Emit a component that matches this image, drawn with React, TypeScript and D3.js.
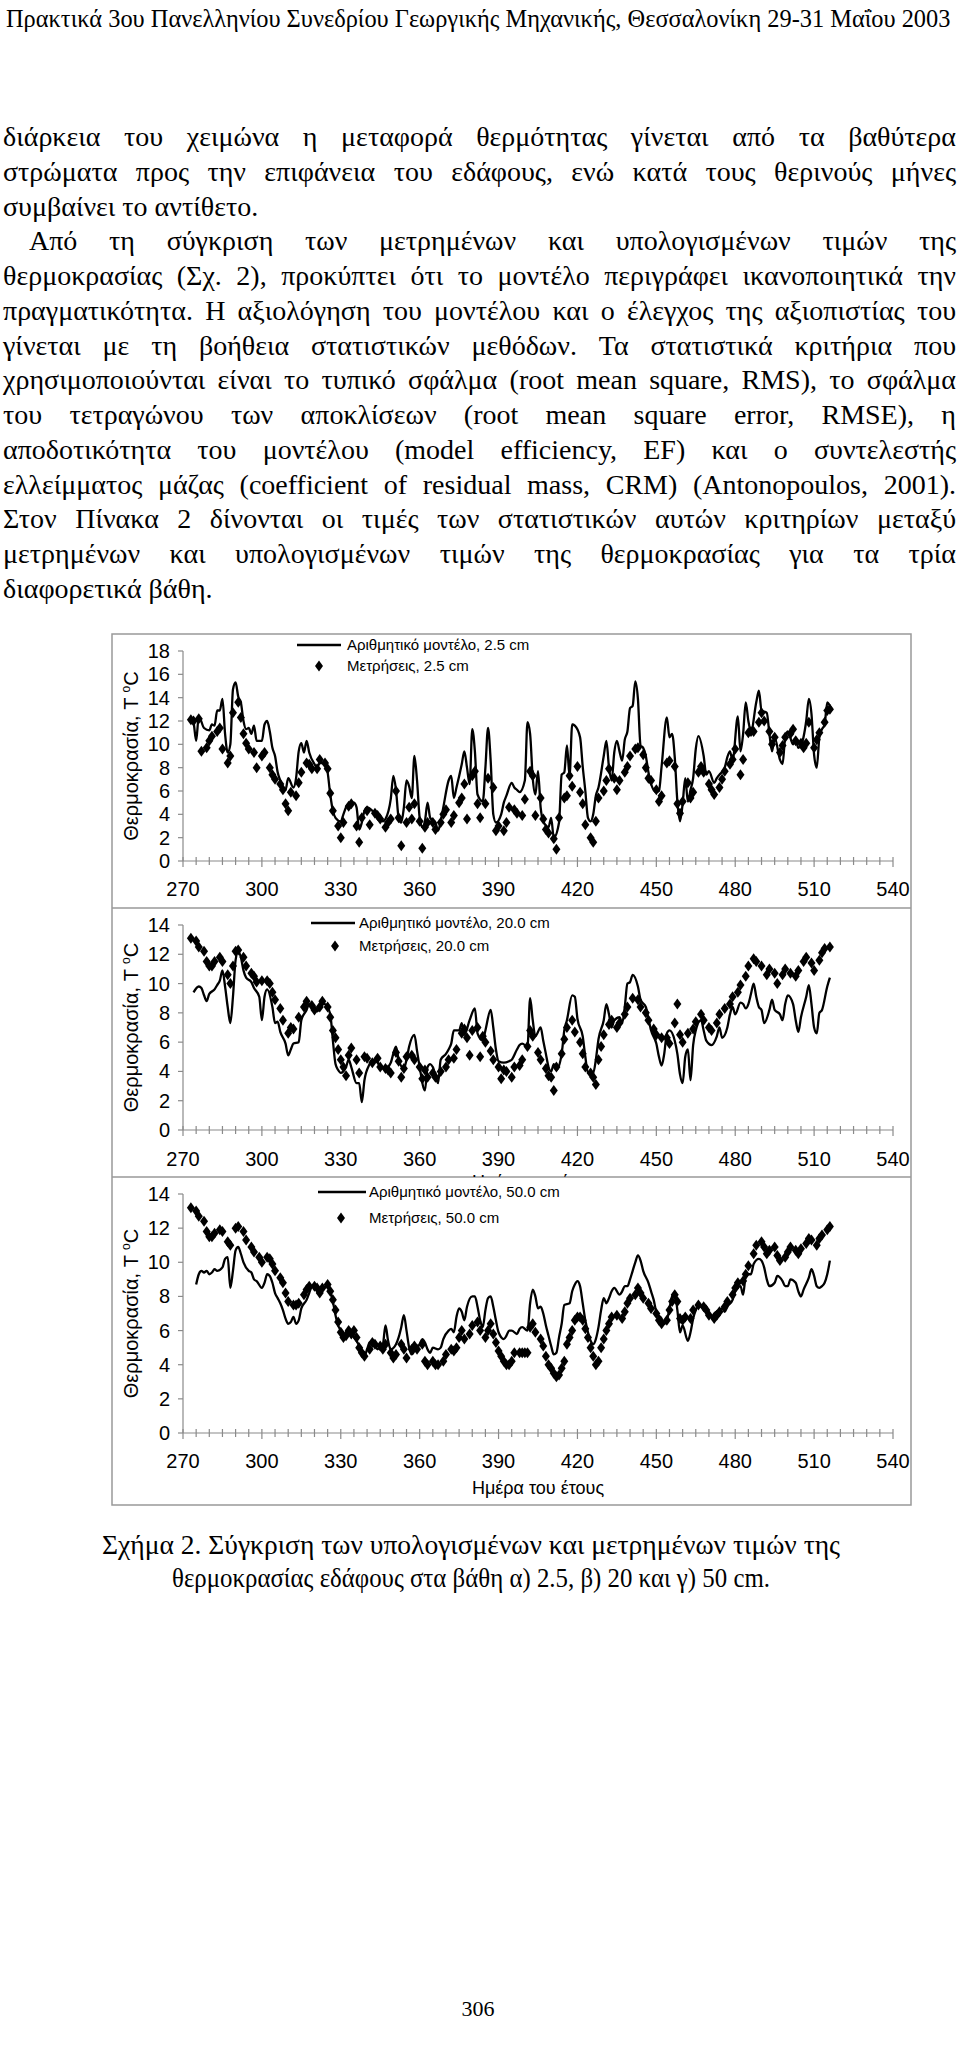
import React, { useRef, useEffect } from 'react';
import * as d3 from 'd3';

type Pt = [number, number];

const header = 'Πρακτικά 3ου Πανελληνίου Συνεδρίου Γεωργικής Μηχανικής, Θεσσαλονίκη 29-31 Μαΐου 2003';

// text of the page, one entry per printed line
const bodyLines = [
  { t: 'διάρκεια του χειμώνα η μεταφορά θερμότητας γίνεται από τα βαθύτερα', j: true, ind: 0 },
  { t: 'στρώματα προς την επιφάνεια του εδάφους, ενώ κατά τους θερινούς μήνες', j: true, ind: 0 },
  { t: 'συμβαίνει το αντίθετο.', j: false, ind: 0 },
  { t: 'Από τη σύγκριση των μετρημένων και υπολογισμένων τιμών της', j: true, ind: 26 },
  { t: 'θερμοκρασίας (Σχ. 2), προκύπτει ότι το μοντέλο περιγράφει ικανοποιητικά την', j: true, ind: 0 },
  { t: 'πραγματικότητα. Η αξιολόγηση του μοντέλου και ο έλεγχος της αξιοπιστίας του', j: true, ind: 0 },
  { t: 'γίνεται με τη βοήθεια στατιστικών μεθόδων. Τα στατιστικά κριτήρια που', j: true, ind: 0 },
  { t: 'χρησιμοποιούνται είναι το τυπικό σφάλμα (root mean square, RMS), το σφάλμα', j: true, ind: 0 },
  { t: 'του τετραγώνου των αποκλίσεων (root mean square error, RMSE), η', j: true, ind: 0 },
  { t: 'αποδοτικότητα του μοντέλου (model efficiency, EF) και ο συντελεστής', j: true, ind: 0 },
  { t: 'ελλείμματος μάζας (coefficient of residual mass, CRM) (Antonopoulos, 2001).', j: true, ind: 0 },
  { t: 'Στον Πίνακα 2 δίνονται οι τιμές των στατιστικών αυτών κριτηρίων μεταξύ', j: true, ind: 0 },
  { t: 'μετρημένων και υπολογισμένων τιμών της θερμοκρασίας για τα τρία', j: true, ind: 0 },
  { t: 'διαφορετικά βάθη.', j: false, ind: 0 },
];

const captionLines = [
  'Σχήμα 2. Σύγκριση των υπολογισμένων και μετρημένων τιμών της',
  'θερμοκρασίας εδάφους στα βάθη α) 2.5, β) 20 και γ) 50 cm.',
];

const xTickLabels = [270, 300, 330, 360, 390, 420, 450, 480, 510, 540];
const yTicks18 = [0, 2, 4, 6, 8, 10, 12, 14, 16, 18];
const yTicks14 = [0, 2, 4, 6, 8, 10, 12, 14];
const depths = ['2.5', '20.0', '50.0'];

// 2.5 cm
const model25: Pt[] = [[273,12.3],[274,11.9],[275,10.3],[276,12.4],[278,11.4],[280,11.2],[281,11.7],[282,11.6],[283,12.9],[284,12.9],[285,13.9],[286,10.9],[287,9.3],[288,10.0],[289,14.7],[290,15.3],[291,14.1],[292,13.6],[293,12.0],[294,11.3],[295,11.4],[296,10.9],[297,11.6],[298,10.3],[300,10.3],[301,11.7],[302,12.0],[303,11.1],[304,9.7],[305,9.0],[306,7.6],[307,6.9],[309,6.1],[310,7.1],[312,6.3],[313,7.1],[314,9.4],[315,10.1],[316,9.3],[317,10.3],[318,9.3],[320,8.3],[321,8.0],[322,8.4],[324,8.4],[325,7.6],[326,5.7],[327,4.3],[328,3.7],[330,3.4],[331,4.0],[332,4.6],[333,4.9],[335,5.0],[336,4.6],[337,2.7],[338,3.3],[339,4.3],[340,4.6],[342,4.3],[343,4.0],[345,3.7],[346,3.4],[347,3.6],[349,5.3],[350,7.3],[351,6.1],[352,3.7],[353,3.3],[354,4.6],[355,6.9],[356,6.4],[357,5.4],[358,9.0],[359,6.9],[360,3.7],[361,2.9],[362,3.4],[363,5.0],[364,3.7],[366,3.3],[367,2.6],[368,3.4],[369,4.6],[371,6.9],[372,7.3],[373,5.4],[374,6.3],[376,8.3],[377,9.4],[378,8.0],[379,6.6],[380,11.3],[381,9.4],[382,5.7],[384,5.1],[385,8.0],[386,11.4],[387,8.6],[388,4.0],[389,3.3],[391,4.0],[392,5.0],[393,5.6],[395,6.7],[396,6.3],[397,6.1],[398,5.9],[400,6.9],[401,11.9],[402,10.9],[403,7.1],[404,5.7],[405,7.7],[406,4.6],[407,3.4],[409,2.9],[410,3.7],[411,2.0],[413,3.3],[414,7.4],[415,7.6],[416,9.9],[417,7.3],[418,11.7],[419,11.6],[421,10.6],[422,8.1],[423,6.0],[424,3.7],[425,3.4],[426,4.0],[427,5.6],[428,6.3],[430,9.0],[431,10.3],[432,8.0],[433,6.9],[434,9.3],[435,10.3],[436,9.4],[437,8.6],[438,10.4],[439,11.1],[440,13.1],[441,13.3],[442,15.4],[443,13.9],[444,9.9],[445,9.7],[446,9.0],[447,7.6],[448,6.6],[450,5.9],[451,6.0],[452,8.1],[454,12.3],[455,10.6],[456,10.9],[457,8.9],[458,5.1],[459,3.4],[460,4.9],[461,7.1],[462,5.1],[463,6.1],[464,7.1],[465,9.6],[466,10.7],[468,9.0],[469,7.4],[470,7.7],[472,6.7],[473,7.1],[474,7.4],[476,8.0],[477,8.9],[478,9.4],[479,8.6],[481,12.4],[482,9.4],[483,10.9],[484,13.6],[485,12.0],[486,11.1],[488,13.6],[489,14.6],[490,12.9],[492,12.7],[493,10.9],[494,9.4],[495,10.6],[497,8.7],[498,8.3],[499,10.6],[500,11.1],[502,10.0],[503,10.4],[504,9.7],[505,9.9],[507,12.0],[508,13.9],[509,12.6],[510,9.1],[511,8.0],[512,10.6],[513,11.3],[514,11.7],[515,13.6],[516,13.3],[517,12.9]];

const meas25: Pt[] = [[273,12.1],[274,12.0],[276,12.2],[277,9.4],[279,9.7],[280,10.3],[281,10.7],[283,11.1],[284,11.4],[285,9.6],[287,8.4],[288,9.0],[289,12.7],[291,13.6],[292,12.3],[293,10.9],[294,10.1],[295,9.6],[297,9.3],[298,8.0],[300,9.0],[301,9.3],[303,8.0],[304,7.4],[305,7.0],[307,6.6],[308,6.1],[309,4.9],[310,4.3],[311,5.9],[313,5.6],[314,6.7],[315,7.6],[317,8.4],[318,8.3],[319,7.9],[321,7.9],[322,8.7],[324,8.4],[325,7.9],[326,5.8],[327,4.3],[329,3.0],[330,2.0],[331,3.3],[333,4.7],[334,4.9],[336,3.0],[337,1.6],[338,3.7],[340,4.3],[341,3.1],[343,4.1],[344,3.9],[345,3.6],[347,2.9],[348,3.3],[349,3.6],[351,6.0],[352,3.7],[353,1.3],[355,3.3],[356,4.6],[357,3.6],[358,4.9],[360,3.4],[361,1.1],[362,2.9],[363,3.3],[365,3.3],[366,2.7],[368,3.3],[369,4.0],[370,4.4],[372,3.3],[373,3.9],[375,5.0],[376,5.4],[377,6.6],[378,3.6],[380,7.3],[381,7.7],[382,4.9],[383,3.7],[385,4.9],[386,7.1],[388,6.3],[389,2.6],[390,3.0],[392,2.6],[393,3.3],[394,4.6],[396,4.4],[397,4.1],[399,3.9],[400,5.3],[402,7.7],[403,7.3],[404,3.9],[406,5.4],[407,3.6],[408,2.7],[409,2.4],[411,1.9],[412,1.0],[413,3.7],[415,5.4],[416,5.6],[417,7.3],[418,6.4],[420,8.1],[421,5.9],[422,4.9],[423,3.1],[425,2.0],[426,1.6],[427,3.4],[428,5.4],[430,6.0],[431,6.9],[432,7.9],[434,7.1],[435,6.1],[436,6.9],[438,7.6],[439,8.1],[440,9.0],[442,9.6],[443,9.7],[445,9.1],[446,8.0],[447,7.1],[448,6.9],[450,6.1],[451,5.1],[452,5.6],[454,8.4],[455,8.6],[457,8.1],[458,4.9],[459,4.1],[460,5.1],[462,6.7],[463,5.4],[464,5.9],[466,7.6],[467,8.1],[468,7.6],[470,6.6],[471,6.1],[472,5.7],[474,6.3],[475,7.0],[476,7.7],[478,8.3],[479,8.7],[480,9.6],[482,7.4],[483,8.7],[485,11.0],[486,11.1],[487,11.1],[489,11.9],[490,12.7],[491,12.0],[493,11.1],[494,10.0],[495,10.6],[497,9.3],[498,9.9],[499,10.6],[501,10.9],[502,11.3],[503,10.3],[505,10.1],[506,9.7],[507,10.1],[508,11.9],[510,9.7],[511,10.4],[512,11.0],[514,11.9],[515,12.9],[516,13.0]];

// 20 cm
const model20: Pt[] = [[274,9.4],[276,9.8],[277,9.7],[278,9.2],[279,8.8],[280,9.3],[282,9.6],[283,9.9],[284,10.2],[285,10.9],[286,9.8],[287,8.4],[288,7.3],[289,9.1],[290,11.6],[291,12.2],[292,11.8],[293,10.9],[294,10.4],[296,10.1],[297,9.7],[299,9.1],[300,7.5],[301,9.1],[302,9.6],[304,8.4],[305,7.3],[306,7.4],[307,6.7],[309,5.9],[310,5.1],[311,5.5],[312,5.9],[314,6.0],[315,7.5],[317,8.2],[318,8.6],[320,8.3],[321,8.1],[323,8.6],[324,8.6],[326,7.9],[327,6.1],[328,4.5],[329,4.1],[330,3.9],[332,4.3],[333,4.8],[334,4.3],[336,3.2],[337,3.2],[338,1.9],[339,3.4],[341,4.5],[342,4.8],[344,4.6],[345,4.3],[347,4.2],[348,4.3],[349,4.6],[351,5.7],[352,4.8],[354,4.2],[355,4.8],[356,5.7],[358,6.5],[359,5.4],[360,4.3],[362,2.7],[363,4.3],[364,4.5],[365,4.3],[367,3.2],[368,4.8],[370,5.2],[371,5.5],[372,5.9],[373,6.8],[375,6.8],[376,7.3],[377,6.5],[379,7.5],[381,8.3],[382,6.6],[384,6.1],[385,6.8],[387,8.2],[388,7.0],[389,5.5],[390,4.7],[392,4.6],[394,4.7],[395,4.8],[397,5.5],[398,5.8],[399,5.9],[401,5.7],[402,9.0],[403,7.5],[404,6.4],[406,7.0],[407,6.1],[408,5.2],[409,4.3],[410,4.0],[411,4.5],[412,4.1],[414,5.2],[415,6.8],[416,7.5],[418,9.2],[419,9.1],[420,7.6],[422,6.4],[423,5.0],[424,3.9],[426,3.9],[427,4.8],[428,6.2],[430,7.5],[431,8.6],[432,7.9],[433,7.0],[434,7.5],[436,7.7],[437,7.3],[438,8.4],[439,10.0],[440,10.1],[441,10.6],[443,9.8],[444,8.9],[446,8.4],[447,7.6],[448,6.8],[450,5.9],[451,5.0],[452,4.4],[453,5.2],[454,6.6],[455,6.8],[457,6.1],[458,5.2],[459,3.8],[460,3.2],[461,5.0],[462,5.5],[463,3.4],[464,5.8],[465,6.8],[467,7.5],[468,6.8],[469,6.1],[471,5.8],[473,6.4],[474,7.0],[475,6.3],[477,7.0],[478,7.9],[479,8.4],[480,7.9],[482,8.7],[483,8.6],[484,8.3],[485,8.6],[486,9.3],[487,10.0],[488,9.1],[489,8.4],[490,8.2],[491,7.3],[493,8.2],[494,8.9],[495,8.2],[497,7.9],[498,7.5],[499,8.6],[500,9.2],[502,8.6],[503,7.5],[504,6.7],[505,7.7],[507,9.1],[508,9.9],[509,8.6],[510,7.0],[511,6.6],[512,8.0],[513,8.2],[515,9.8],[516,10.4]];

const meas20: Pt[] = [[273,13.1],[275,12.9],[276,12.5],[278,12.2],[279,11.5],[280,11.2],[281,11.2],[282,11.5],[284,11.8],[285,11.5],[287,10.6],[288,10.0],[289,11.2],[290,12.2],[291,12.3],[293,11.8],[294,11.2],[296,10.7],[297,10.5],[298,10.1],[300,10.2],[302,10.2],[303,10.0],[304,9.4],[305,8.9],[307,8.3],[308,7.5],[310,6.6],[311,7.0],[312,6.9],[314,7.7],[316,8.4],[317,8.8],[319,8.5],[320,8.2],[322,8.4],[323,8.8],[325,8.4],[326,7.7],[327,6.8],[328,6.3],[329,5.5],[330,4.8],[331,4.3],[332,3.7],[333,5.1],[334,5.6],[336,4.8],[337,3.9],[339,5.0],[340,4.9],[342,4.6],[344,4.9],[345,4.3],[347,4.2],[348,4.1],[349,3.9],[351,5.3],[352,4.7],[353,3.6],[354,4.2],[355,5.0],[357,5.1],[358,4.8],[360,4.3],[361,3.5],[362,4.1],[363,3.6],[365,3.9],[366,3.6],[368,4.0],[370,4.3],[371,4.8],[373,4.9],[374,5.5],[376,6.6],[377,6.9],[378,6.3],[379,5.1],[380,6.8],[382,7.0],[383,5.0],[384,6.4],[385,6.0],[387,5.4],[388,4.8],[390,4.3],[391,3.5],[392,4.1],[393,4.0],[395,3.6],[396,4.3],[398,4.4],[399,4.8],[401,5.7],[402,6.8],[403,6.4],[405,5.3],[406,4.8],[408,4.2],[409,3.7],[410,3.6],[411,2.7],[412,4.3],[414,5.2],[415,6.2],[416,7.0],[418,7.5],[419,6.7],[421,6.0],[422,5.2],[423,4.3],[425,3.9],[426,3.6],[427,3.1],[428,4.8],[429,5.7],[430,6.5],[432,7.2],[433,7.5],[435,7.0],[436,7.3],[438,7.9],[439,8.4],[441,9.0],[443,8.9],[444,8.4],[446,8.0],[447,7.5],[449,6.9],[450,6.5],[452,6.3],[454,6.3],[455,5.9],[457,7.3],[458,8.6],[459,6.5],[460,6.0],[462,6.6],[464,6.9],[465,7.4],[467,7.9],[468,7.5],[470,7.0],[471,6.8],[473,7.3],[474,7.9],[476,8.3],[478,8.6],[479,9.1],[481,9.4],[482,9.9],[484,10.5],[485,11.2],[487,11.7],[488,11.5],[490,11.2],[492,10.6],[493,11.0],[495,10.7],[496,10.0],[498,10.6],[499,11.0],[501,10.7],[503,10.5],[504,10.9],[506,11.5],[507,11.8],[509,11.4],[510,10.9],[512,11.6],[513,12.1],[514,12.4],[516,12.5]];

// 50 cm
const model50: Pt[] = [[275,8.7],[276,9.3],[277,9.5],[278,9.4],[279,9.5],[280,9.3],[281,9.4],[282,9.6],[283,9.5],[285,9.7],[286,10.2],[287,10.3],[288,8.5],[289,9.5],[290,10.7],[291,10.9],[292,10.5],[293,10.0],[295,9.5],[296,9.4],[297,9.0],[298,8.9],[300,8.5],[301,8.8],[302,9.3],[303,9.2],[304,8.8],[305,8.2],[306,7.9],[307,7.6],[308,7.2],[309,6.7],[310,6.4],[311,6.5],[312,6.8],[313,6.4],[314,6.6],[315,7.3],[317,7.8],[318,8.2],[319,8.6],[320,8.7],[321,8.5],[322,8.2],[323,8.5],[325,8.6],[326,8.3],[327,7.7],[328,6.9],[329,6.3],[330,6.0],[331,5.7],[332,5.9],[333,6.1],[334,5.8],[335,5.6],[336,5.4],[337,5.1],[338,4.7],[339,4.5],[340,4.9],[341,5.3],[343,5.1],[344,4.9],[345,5.1],[346,5.2],[347,6.3],[348,5.4],[349,4.9],[351,5.2],[352,5.6],[353,6.2],[354,6.9],[355,6.0],[356,5.0],[357,4.6],[358,4.8],[360,5.2],[361,5.5],[362,5.3],[363,4.9],[364,4.7],[365,5.0],[367,4.9],[368,5.0],[369,5.5],[371,6.0],[372,6.1],[373,5.9],[374,6.8],[375,7.3],[376,7.1],[377,6.6],[378,7.4],[380,8.0],[381,8.0],[382,7.4],[383,6.6],[384,6.2],[385,7.2],[386,7.9],[387,8.0],[388,7.4],[389,6.6],[390,5.9],[392,5.5],[393,5.7],[394,6.0],[395,6.0],[397,5.8],[398,6.1],[399,6.2],[401,6.0],[402,7.6],[403,8.4],[404,8.0],[405,7.3],[406,7.4],[407,7.0],[408,6.3],[409,5.7],[410,5.1],[411,4.6],[412,4.7],[413,5.6],[414,6.4],[415,7.5],[417,7.6],[418,8.3],[419,8.7],[420,8.9],[421,8.6],[422,7.6],[423,6.6],[424,5.9],[425,5.4],[426,5.2],[427,5.5],[428,6.2],[429,7.2],[430,7.9],[431,7.6],[432,7.9],[433,8.3],[434,8.5],[436,8.1],[437,8.3],[438,8.6],[439,8.6],[440,9.0],[441,9.5],[442,10.0],[443,10.4],[444,10.1],[445,9.5],[447,8.8],[448,8.3],[449,7.8],[450,7.1],[452,6.7],[453,6.4],[454,6.6],[455,7.3],[456,8.0],[457,8.2],[458,7.2],[459,5.9],[460,6.3],[462,5.4],[463,5.9],[464,6.7],[465,7.2],[466,7.5],[467,7.4],[469,7.1],[470,6.9],[471,6.8],[472,7.0],[474,7.2],[475,7.3],[476,7.1],[477,7.4],[479,7.8],[480,8.3],[481,8.5],[482,8.6],[483,8.1],[484,9.2],[485,9.3],[486,9.3],[487,9.9],[489,10.2],[490,10.1],[491,9.7],[492,9.0],[493,8.6],[495,8.8],[496,9.2],[498,8.9],[499,8.6],[500,8.6],[501,9.0],[503,8.8],[504,8.3],[505,8.0],[506,8.4],[508,9.1],[509,9.6],[510,9.2],[511,8.6],[512,8.5],[513,8.6],[514,8.8],[515,9.3],[516,10.1]];

const meas50: Pt[] = [[273,13.2],[275,13.0],[276,12.7],[278,12.4],[279,11.8],[280,11.5],[281,11.5],[282,11.7],[284,11.9],[285,11.8],[287,11.2],[288,11.0],[290,12.0],[291,12.1],[293,11.8],[294,11.3],[296,10.9],[297,10.6],[299,10.3],[300,10.0],[302,10.3],[303,10.2],[304,9.9],[305,9.5],[307,9.1],[308,8.8],[309,8.2],[310,7.7],[312,7.5],[313,7.5],[314,7.6],[316,8.1],[317,8.4],[318,8.6],[320,8.6],[321,8.5],[322,8.2],[323,8.5],[325,8.7],[326,8.3],[327,7.8],[328,7.2],[329,6.5],[330,5.9],[331,5.6],[332,5.7],[333,6.0],[334,5.8],[335,6.0],[336,5.6],[337,5.0],[338,4.7],[339,4.5],[341,4.9],[342,5.3],[343,5.2],[345,5.1],[346,4.9],[347,5.2],[349,4.7],[350,4.4],[351,4.6],[353,5.2],[354,4.9],[355,4.4],[357,4.9],[358,5.1],[359,4.9],[361,5.2],[362,4.2],[363,4.0],[365,4.2],[366,4.0],[367,4.0],[369,4.2],[370,4.6],[372,4.9],[373,4.8],[374,5.0],[375,5.6],[376,6.0],[377,5.5],[379,5.8],[380,6.3],[382,6.5],[383,6.0],[385,5.6],[386,6.0],[387,6.4],[388,5.8],[389,5.3],[390,4.8],[391,4.5],[392,4.2],[393,4.0],[394,4.0],[395,4.2],[396,4.7],[398,4.7],[399,4.7],[400,4.7],[401,4.7],[402,6.2],[403,6.4],[404,5.9],[406,5.5],[407,5.1],[408,4.5],[409,4.0],[410,3.8],[411,3.5],[412,3.3],[413,3.4],[414,3.8],[415,4.2],[416,5.2],[417,5.6],[418,6.0],[419,6.6],[420,6.8],[421,6.8],[422,6.6],[423,6.1],[424,5.6],[425,5.0],[426,4.5],[427,4.0],[428,4.2],[429,5.0],[430,5.5],[431,6.0],[432,6.4],[433,6.8],[435,6.9],[437,6.7],[438,7.1],[439,7.6],[440,7.9],[442,8.1],[443,8.5],[444,8.2],[445,7.9],[447,7.6],[448,7.3],[450,7.0],[451,6.6],[452,6.4],[454,6.6],[455,7.2],[456,7.7],[457,8.1],[458,7.7],[459,6.7],[460,6.6],[461,6.8],[463,6.7],[464,7.2],[466,7.5],[468,7.4],[469,7.2],[470,6.9],[472,6.7],[473,6.9],[474,7.1],[476,7.4],[477,7.7],[479,8.1],[480,8.5],[481,8.8],[483,8.9],[484,9.3],[485,9.8],[487,10.5],[488,11.0],[490,11.2],[491,10.9],[492,10.5],[493,10.7],[495,10.9],[496,10.4],[497,10.1],[499,10.3],[500,10.6],[501,10.9],[503,10.7],[504,10.5],[505,10.8],[507,11.1],[508,11.4],[509,11.3],[511,11.0],[512,11.4],[513,11.6],[515,11.9],[516,12.1]];

const AXIS = '#8a8a8a';
const SANS = 'Liberation Sans, Arial, sans-serif';
const SERIF = 'Liberation Serif, Times New Roman, serif';

const panels = [
  { yMax: 18, ticks: yTicks18, yBot: 861, yTop: 651, model: model25, meas: meas25, depth: depths[0],
    leg: { x1: 297, x2: 341, ly: 645, mx: 319, my: 666, tx: 347 }, tickBase: 896, xTitleY: null as number | null, clip: null as number[] | null },
  { yMax: 14, ticks: yTicks14, yBot: 1130, yTop: 925, model: model20, meas: meas20, depth: depths[1],
    leg: { x1: 311, x2: 355, ly: 923, mx: 335, my: 946, tx: 359 }, tickBase: 1166, xTitleY: 1188, clip: [908, 1177] },
  { yMax: 14, ticks: yTicks14, yBot: 1433, yTop: 1194, model: model50, meas: meas50, depth: depths[2],
    leg: { x1: 318, x2: 366, ly: 1192, mx: 341, my: 1218, tx: 369 }, tickBase: 1468, xTitleY: 1494, clip: null },
];

const diamond = 'M0,-5.5L4,0L0,5.5L-4,0Z';

const App = () => {
  const svgRef = useRef<SVGSVGElement>(null);

  useEffect(() => {
    const svg = d3.select(svgRef.current).html('');
    svg.append('rect').attr('width', 960).attr('height', 2048).attr('fill', '#fff');

    // header, squeezed horizontally to the printed width
    const hd = svg.append('text')
      .attr('font-family', SERIF).attr('font-size', 26)
      .text(header);
    const hw = (hd.node() as SVGTextElement).getComputedTextLength();
    hd.attr('transform', `translate(6,27) scale(${945 / hw},1)`);

    // body, justified by spreading the words
    const body = svg.append('g').attr('font-family', SERIF).attr('font-size', 28);
    bodyLines.forEach((ln, i) => {
      const yb = 146 + i * 34.75;
      const x0 = 3 + ln.ind;
      if (!ln.j) {
        body.append('text').attr('x', x0).attr('y', yb).text(ln.t);
        return;
      }
      const words = ln.t.split(' ');
      const nodes = words.map(w => body.append('text').attr('y', yb).text(w));
      const widths = nodes.map(n => (n.node() as SVGTextElement).getComputedTextLength());
      const gap = (956 - x0 - d3.sum(widths)) / (words.length - 1);
      let cx = x0;
      nodes.forEach((n, k) => { n.attr('x', cx); cx += widths[k] + gap; });
    });

    // figure frame
    svg.append('rect').attr('x', 112).attr('y', 634).attr('width', 799).attr('height', 871)
      .attr('fill', 'none').attr('stroke', '#999').attr('stroke-width', 1.5);
    [908, 1177].forEach(yy => svg.append('line').attr('x1', 112).attr('x2', 911).attr('y1', yy).attr('y2', yy)
      .attr('stroke', '#999').attr('stroke-width', 1.5));

    const defs = svg.append('defs');

    panels.forEach((p, pi) => {
      const x = d3.scaleLinear().domain([270, 540]).range([183, 893]);
      const y = d3.scaleLinear().domain([0, p.yMax]).range([p.yBot, p.yTop]);
      const g = svg.append('g').attr('font-family', SANS);

      // y axis
      g.append('line').attr('x1', x(270)).attr('x2', x(270)).attr('y1', y(0)).attr('y2', y(p.yMax))
        .attr('stroke', AXIS).attr('stroke-width', 1.2);
      g.selectAll('.yt').data(p.ticks).enter().append('line')
        .attr('x1', x(270) - 5).attr('x2', x(270)).attr('y1', d => y(d)).attr('y2', d => y(d))
        .attr('stroke', AXIS).attr('stroke-width', 1.2);
      g.selectAll('.yl').data(p.ticks).enter().append('text')
        .attr('x', 170).attr('y', d => y(d) + 7).attr('text-anchor', 'end').attr('font-size', 20)
        .text(d => d);

      // x axis
      g.append('line').attr('x1', x(270)).attr('x2', x(540)).attr('y1', y(0)).attr('y2', y(0))
        .attr('stroke', AXIS).attr('stroke-width', 1.2);
      g.selectAll('.xt').data(d3.range(270, 541, 5)).enter().append('line')
        .attr('x1', d => x(d)).attr('x2', d => x(d))
        .attr('y1', y(0) - 4).attr('y2', d => y(0) + ((d - 270) % 30 === 0 ? 6 : 4))
        .attr('stroke', AXIS).attr('stroke-width', 1.2);
      g.selectAll('.xl').data(xTickLabels).enter().append('text')
        .attr('x', d => x(d)).attr('y', p.tickBase).attr('text-anchor', 'middle').attr('font-size', 20)
        .text(d => d);

      // y title
      const t = g.append('text')
        .attr('transform', `translate(138,${(y(0) + y(p.yMax)) / 2}) rotate(-90)`)
        .attr('text-anchor', 'middle').attr('font-size', 20);
      t.append('tspan').text('Θερμοκρασία, T ');
      t.append('tspan').attr('font-size', 12).attr('dy', -8).text('o');
      t.append('tspan').attr('dy', 8).text('C');

      // x title (the second one is cut by the next panel)
      if (p.xTitleY !== null) {
        const xt = g.append('text').attr('x', (x(270) + x(540)) / 2).attr('y', p.xTitleY)
          .attr('text-anchor', 'middle').attr('font-size', 18).text('Ημέρα του έτους');
        if (p.clip) {
          const id = `clip${pi}`;
          defs.append('clipPath').attr('id', id).append('rect')
            .attr('x', 112).attr('y', p.clip[0]).attr('width', 799).attr('height', p.clip[1] - p.clip[0]);
          xt.attr('clip-path', `url(#${id})`);
        }
      }

      // series
      const line = d3.line<Pt>().x(d => x(d[0])).y(d => y(d[1])).curve(d3.curveMonotoneX);
      g.append('path').datum(p.model).attr('d', line).attr('fill', 'none')
        .attr('stroke', '#000').attr('stroke-width', 2.3);
      g.selectAll('.mk').data(p.meas).enter().append('path')
        .attr('d', diamond).attr('transform', d => `translate(${x(d[0])},${y(d[1])})`).attr('fill', '#000');

      // legend
      g.append('line').attr('x1', p.leg.x1).attr('x2', p.leg.x2).attr('y1', p.leg.ly).attr('y2', p.leg.ly)
        .attr('stroke', '#000').attr('stroke-width', 2.5);
      g.append('text').attr('x', p.leg.tx).attr('y', p.leg.ly + 5).attr('font-size', 15)
        .text(`Αριθμητικό μοντέλο, ${p.depth} cm`);
      g.append('path').attr('d', diamond).attr('transform', `translate(${p.leg.mx},${p.leg.my})`).attr('fill', '#000');
      g.append('text').attr('x', p.leg.tx).attr('y', p.leg.my + 5).attr('font-size', 15)
        .text(`Μετρήσεις, ${p.depth} cm`);
    });

    // caption
    const cap = svg.append('g').attr('font-family', SERIF).attr('font-size', 28);
    cap.append('text').attr('x', 102).attr('y', 1554)
      .attr('textLength', 738).attr('lengthAdjust', 'spacingAndGlyphs').text(captionLines[0]);
    cap.append('text').attr('x', 172).attr('y', 1587)
      .attr('textLength', 598).attr('lengthAdjust', 'spacingAndGlyphs').text(captionLines[1]);

    // page number
    svg.append('text').attr('x', 478).attr('y', 2016).attr('text-anchor', 'middle')
      .attr('font-family', SERIF).attr('font-size', 22).text('306');
  }, []);

  return (
    <svg ref={svgRef} width={960} height={2048}
      style={{ position: 'absolute', left: 0, top: 0, display: 'block' }} />
  );
};

export default App;
